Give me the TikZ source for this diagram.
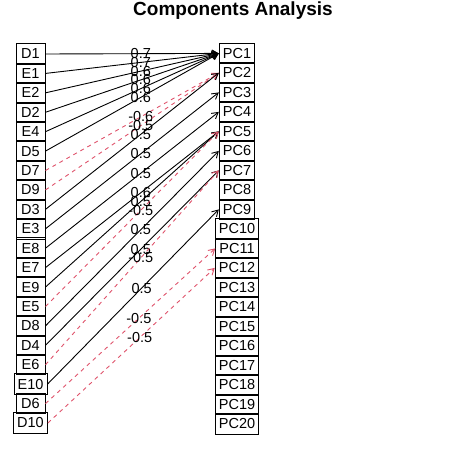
\documentclass[tikz,border=0pt]{standalone}
\usepackage{fontspec}
\setmainfont{Liberation Sans}
\usetikzlibrary{arrows.meta}
\definecolor{negred}{HTML}{DF536B}

\begin{document}
\begin{tikzpicture}[
  x=1pt, y=-1pt,
  font=\fontsize{14.5}{16}\selectfont,
  box/.style={draw, line width=1pt, inner xsep=3.6pt, inner ysep=0pt, minimum height=20.5pt},
  var/.style={box, minimum width=29pt},
  comp/.style={box, minimum width=34pt},
  loading/.style={line width=0.9pt, -{Straight Barb[length=6pt,width=7pt]}},
  negloading/.style={loading, draw=negred, dash pattern=on 4pt off 4pt},
  lbl/.style={inner sep=0pt, pos=0.55}
]
\useasboundingbox (0,0) rectangle (470,468);

\node[font=\fontsize{19}{21}\selectfont\bfseries] (title) at (233,11) {Components Analysis};

% observed variables
\foreach \v [count=\i from 0] in {D1,E1,E2,D2,E4,D5,D7,D9,D3,E3,E8,E7,E9,E5,D8,D4,E6,E10,D6,D10}
  \node[var] (\v) at (30.5, 54+19.42*\i) {\v};

% components
\foreach \j in {1,...,20}
  \node[comp] (PC\j) at (237, 33.9+19.5*\j) {PC\j};

% loadings
\foreach \v/\p/\l/\s in {D1/1/0.7/loading, E1/1/0.7/loading, E2/1/0.6/loading,
    D2/1/0.6/loading, E4/1/0.6/loading, D5/1/0.6/loading,
    D7/2/-0.6/negloading, D9/2/-0.5/negloading, D3/2/0.5/loading,
    E3/3/0.5/loading, E8/4/0.5/loading,
    E7/5/0.6/loading, E9/5/0.5/loading, E5/5/-0.5/negloading,
    D8/6/0.5/loading, D4/7/0.5/loading, E6/7/-0.5/negloading,
    E10/9/0.5/loading, D6/11/-0.5/negloading, D10/12/-0.5/negloading}
  \draw[\s] (\v.east) -- (PC\p.west) node[lbl] {\l};

\end{tikzpicture}
\end{document}
